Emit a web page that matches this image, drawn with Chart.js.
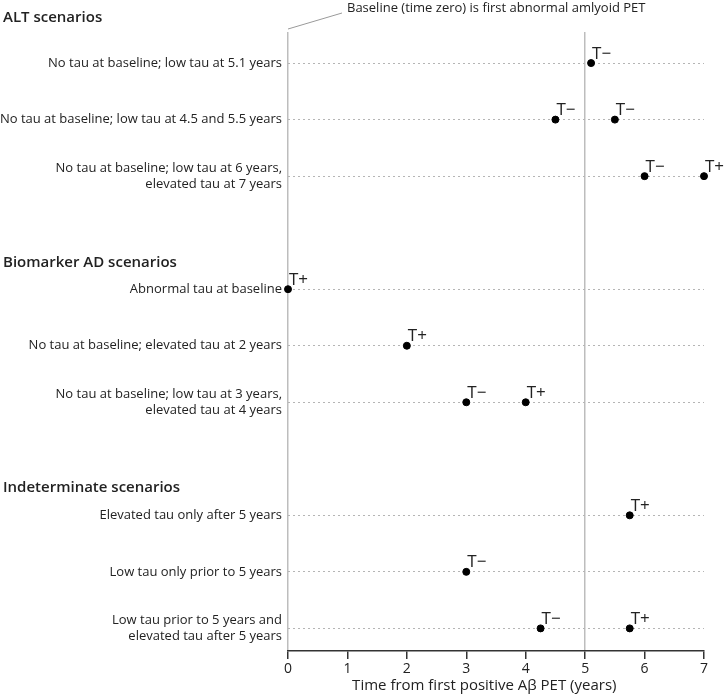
<!DOCTYPE html>
<html>
<head>
<meta charset="utf-8">
<script src="https://cdn.jsdelivr.net/npm/chart.js@4.4.1/dist/chart.umd.min.js"></script>
<style>
  html, body { margin: 0; padding: 0; background: #fff; }
  #wrap { width: 724px; height: 696px; position: relative; }
</style>
</head>
<body>
<div id="wrap"><canvas id="chart"></canvas></div>
<script>
// scenario rows (label text, position on the y scale)
const rowLabels = [
  'No tau at baseline; low tau at 5.1 years',
  'No tau at baseline; low tau at 4.5 and 5.5 years',
  ['No tau at baseline; low tau at 6 years,', 'elevated tau at 7 years'],
  'Abnormal tau at baseline',
  'No tau at baseline; elevated tau at 2 years',
  ['No tau at baseline; low tau at 3 years,', 'elevated tau at 4 years'],
  'Elevated tau only after 5 years',
  'Low tau only prior to 5 years',
  ['Low tau prior to 5 years and', 'elevated tau after 5 years']
];
const rowPos = [0, 1, 2, 4, 5, 6, 8, 9, 10];

const groupTitles = ['ALT scenarios', 'Biomarker AD scenarios', 'Indeterminate scenarios'];
const groupPos = [-0.81, 3.53, 7.52];

// low tau scans (T–)
const lowTauRows = [0, 1, 1, 2, 5, 7, 8];
const lowTauYears = [5.1, 4.5, 5.5, 6, 3, 3, 4.25];
// elevated tau scans (T+)
const highTauRows = [2, 3, 4, 5, 6, 8];
const highTauYears = [7, 0, 2, 4, 5.75, 5.75];

const xTicks = [0, 1, 2, 3, 4, 5, 6, 7];
const refLines = [0, 5];
const note = 'Baseline (time zero) is first abnormal amlyoid PET';
// trailing nbsp nudges the centred title a little to the left, as in the figure
const xTitle = 'Time from first positive A\u03b2 PET (years)' + '\u00a0'.repeat(6);

const FONT = "'Open Sans', 'Noto Sans', sans-serif";
const TXT = '#222';

function toPoints(rows, years) {
  return years.map((v, i) => ({ x: v, y: rowPos[rows[i]] }));
}

const extras = {
  id: 'extras',
  afterDatasetsDraw(chart) {
    const { ctx, scales: { x, y }, chartArea } = chart;
    ctx.save();
    // T- / T+ tags next to each dot
    ctx.font = '17px ' + FONT;
    ctx.fillStyle = TXT;
    ctx.textAlign = 'left';
    ctx.textBaseline = 'alphabetic';
    chart.data.datasets.forEach((ds, di) => {
      chart.getDatasetMeta(di).data.forEach(pt => {
        ctx.fillText(ds.label, pt.x + 1, pt.y - 4.5);
      });
    });
    // group headings
    ctx.font = '600 15px ' + FONT;
    ctx.textBaseline = 'middle';
    groupTitles.forEach((t, i) => ctx.fillText(t, 3, y.getPixelForValue(groupPos[i])));
    // baseline note with leader line
    const x0 = x.getPixelForValue(0);
    const y0 = chartArea.top - 3;
    ctx.strokeStyle = '#9a9a9a';
    ctx.lineWidth = 1;
    ctx.beginPath();
    ctx.moveTo(x0, y0);
    ctx.lineTo(x0 + 54, y0 - 16);
    ctx.stroke();
    ctx.font = '13px ' + FONT;
    ctx.fillText(note, x0 + 59, y0 - 21);
    ctx.restore();
  }
};

new Chart(document.getElementById('chart'), {
  type: 'scatter',
  data: {
    datasets: [
      { label: 'T\u2212', data: toPoints(lowTauRows, lowTauYears), backgroundColor: '#000', borderColor: '#000', pointRadius: 3.5, clip: false },
      { label: 'T+', data: toPoints(highTauRows, highTauYears), backgroundColor: '#000', borderColor: '#000', pointRadius: 3.5, clip: false }
    ]
  },
  options: {
    responsive: true,
    maintainAspectRatio: false,
    animation: false,
    layout: { padding: { top: 32, right: 20, left: 0, bottom: 0 } },
    plugins: { legend: { display: false }, tooltip: { enabled: false } },
    scales: {
      x: {
        type: 'linear',
        min: 0,
        max: 7,
        afterBuildTicks: s => { s.ticks = xTicks.map(v => ({ value: v })); },
        afterFit: s => { s.height = 45; },
        ticks: { color: TXT, font: { family: FONT, size: 14 }, padding: 2 },
        grid: {
          color: c => (c.tick && refLines.includes(c.tick.value)) ? '#bdbdbd' : 'rgba(0,0,0,0)',
          tickColor: '#333',
          lineWidth: 1.5,
          tickLength: 8
        },
        border: { display: true, color: '#333', width: 1.5 },
        title: { display: true, text: xTitle, color: TXT, font: { family: FONT, size: 15 }, padding: { top: 0, bottom: 1 } }
      },
      y: {
        type: 'linear',
        reverse: true,
        min: -0.55,
        max: 10.4,
        afterBuildTicks: s => { s.ticks = rowPos.map(v => ({ value: v })); },
        afterFit: s => { s.width = 288; },
        ticks: {
          color: TXT,
          font: { family: FONT, size: 13, lineHeight: 1.18 },
          padding: 6,
          callback: v => rowLabels[rowPos.indexOf(v)]
        },
        grid: { color: '#b5b5b5', lineWidth: 1, drawTicks: false },
        border: { display: false, dash: [2, 3] }
      }
    }
  },
  plugins: [extras]
});
</script>
</body>
</html>
